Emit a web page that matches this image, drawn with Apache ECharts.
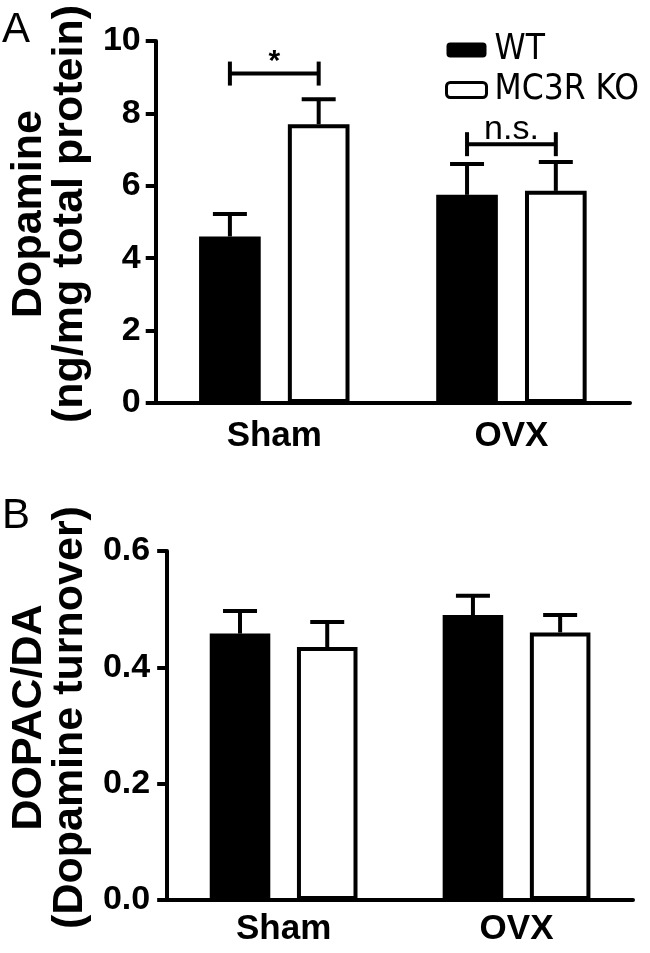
<!DOCTYPE html>
<html>
<head>
<meta charset="utf-8">
<script src="https://cdn.jsdelivr.net/npm/echarts@6/dist/echarts.min.js"></script>
<style>
html,body{margin:0;padding:0;background:#fff;}
#chart{width:650px;height:953px;}
</style>
</head>
<body>
<div id="chart"></div>
<script>
// ---- data ----
const categories = ['Sham', 'OVX'];
const seriesNames = ['WT', 'MC3R KO'];
// Panel A: Dopamine (ng/mg total protein)
const dopWT = [4.6, 5.75];
const dopWTErr = [0.62, 0.85];
const dopKO = [7.7, 5.86];
const dopKOErr = [0.69, 0.8];
const dopTicks = [0, 2, 4, 6, 8, 10];
// significance brackets for panel A: [categoryIndex, level]
const dopBrackets = [[0, 9.1], [1, 7.15]];
const dopBracketLabels = ['*', 'n.s.'];
// Panel B: DOPAC/DA
const turnWT = [0.458, 0.49];
const turnWTErr = [0.039, 0.033];
const turnKO = [0.435, 0.46];
const turnKOErr = [0.043, 0.03];
const turnTicks = [0.0, 0.2, 0.4, 0.6];

const FONT = '"Liberation Sans", Arial, Helvetica, sans-serif';
const NARROW = '"DejaVu Sans Condensed", "Liberation Sans", sans-serif';
const BAR_W = 0.26;   // fraction of category band
const BAR_GAP = 0.44; // fraction of bar width

const chart = echarts.init(document.getElementById('chart'), null, {renderer: 'canvas'});

function errSeries(vals, errs, sign, xi, yi) {
  return {
    type: 'custom',
    xAxisIndex: xi, yAxisIndex: yi,
    z: 5,
    silent: true,
    data: vals.map((v, i) => [i, v, errs[i]]),
    renderItem: function (params, api) {
      const c = api.value(0), v = api.value(1), e = api.value(2);
      const band = api.size([1, 0])[0];
      const bw = band * BAR_W;
      const off = sign * bw * (1 + BAR_GAP) / 2;
      const p0 = api.coord([c, v]);
      const p1 = api.coord([c, v + e]);
      const x = p0[0] + off;
      const capHalf = 17;
      const st = {stroke: '#000', lineWidth: 4};
      return {
        type: 'group',
        children: [
          {type: 'line', shape: {x1: x, y1: p0[1], x2: x, y2: p1[1]}, style: st},
          {type: 'line', shape: {x1: x - capHalf, y1: p1[1], x2: x + capHalf, y2: p1[1]}, style: st}
        ]
      };
    }
  };
}

function bracketSeries(brackets, labels, xi, yi) {
  return {
    type: 'custom',
    xAxisIndex: xi, yAxisIndex: yi,
    z: 6,
    silent: true,
    data: brackets,
    renderItem: function (params, api) {
      const c = api.value(0), lv = api.value(1);
      const band = api.size([1, 0])[0];
      const bw = band * BAR_W;
      const off = bw * (1 + BAR_GAP) / 2;
      const p = api.coord([c, lv]);
      const xl = p[0] - off, xr = p[0] + off, y = p[1];
      const st = {stroke: '#000', lineWidth: 4};
      const lab = labels[params.dataIndex];
      const isStar = lab === '*';
      return {
        type: 'group',
        children: [
          {type: 'line', shape: {x1: xl, y1: y, x2: xr, y2: y}, style: st},
          {type: 'line', shape: {x1: xl, y1: y - 12, x2: xl, y2: y + 12}, style: st},
          {type: 'line', shape: {x1: xr, y1: y - 12, x2: xr, y2: y + 12}, style: st},
          {type: 'text', style: {
            text: lab, x: p[0], y: isStar ? y - 12 : y + 2,
            textAlign: 'center', textVerticalAlign: isStar ? 'middle' : 'bottom',
            font: (isStar ? 'bold 30px ' : '34px ') + FONT, fill: '#000'
          }}
        ]
      };
    }
  };
}

const axisLineStyle = {lineStyle: {color: '#000', width: 4}};
const tickStyle = {lineStyle: {color: '#000', width: 4}};

const option = {
  animation: false,
  backgroundColor: '#fff',
  textStyle: {fontFamily: FONT},
  grid: [
    {left: 143, top: 41, width: 487, height: 362},
    {left: 161, top: 551, width: 472, height: 349}
  ],
  legend: {
    orient: 'vertical',
    left: 445, top: 30,
    padding: 0,
    itemWidth: 40, itemHeight: 15,
    itemGap: 0,
    textStyle: {fontSize: 35, fontFamily: NARROW, color: '#000', lineHeight: 40, padding: [0, 0, 0, 3]},
    data: [
      {name: 'WT', itemStyle: {color: '#000', borderColor: '#000', borderWidth: 0}},
      {name: 'MC3R KO', itemStyle: {color: '#fff', borderColor: '#000', borderWidth: 3}}
    ]
  },
  graphic: [
    {type: 'text', left: 2, top: 9, style: {text: 'A', font: '42px ' + FONT, fill: '#000'}},
    {type: 'text', left: 2, top: 495, style: {text: 'B', font: '42px ' + FONT, fill: '#000'}}
  ],
  xAxis: [0, 1].map(i => ({
    type: 'category', gridIndex: i, data: categories,
    axisLine: axisLineStyle,
    axisTick: Object.assign({alignWithLabel: true, length: 9}, tickStyle),
    axisLabel: {color: '#000', fontSize: 35, fontWeight: 'bold', fontFamily: FONT, margin: i === 0 ? 16 : 12}
  })),
  yAxis: [
    {
      type: 'value', gridIndex: 0, min: dopTicks[0], max: dopTicks[dopTicks.length - 1], interval: 2,
      axisLine: Object.assign({show: true}, axisLineStyle),
      axisTick: Object.assign({show: true, length: 10}, tickStyle),
      splitLine: {show: false},
      axisLabel: {color: '#000', fontSize: 34, fontWeight: 'bold', fontFamily: FONT, margin: 15},
      name: 'Dopamine\n(ng/mg total protein)',
      nameLocation: 'middle', nameGap: 58,
      nameTextStyle: {color: '#000', fontSize: 43, fontWeight: 'bold', fontFamily: FONT, lineHeight: 41, padding: [0, 0, 0, 16]}
    },
    {
      type: 'value', gridIndex: 1, min: turnTicks[0], max: turnTicks[turnTicks.length - 1], interval: 0.2,
      axisLine: Object.assign({show: true}, axisLineStyle),
      axisTick: Object.assign({show: true, length: 10}, tickStyle),
      splitLine: {show: false},
      axisLabel: {color: '#000', fontSize: 34, fontWeight: 'bold', fontFamily: FONT, margin: 17,
        formatter: v => v.toFixed(1)},
      name: 'DOPAC/DA\n(Dopamine turnover)',
      nameLocation: 'middle', nameGap: 76,
      nameTextStyle: {color: '#000', fontSize: 43, fontWeight: 'bold', fontFamily: FONT, lineHeight: 41, padding: [0, 0, 0, 16]}
    }
  ],
  series: [
    {name: 'WT', type: 'bar', xAxisIndex: 0, yAxisIndex: 0, data: dopWT,
      barWidth: (BAR_W * 100) + '%', barGap: (BAR_GAP * 100) + '%',
      itemStyle: {color: '#000'}},
    {name: 'MC3R KO', type: 'bar', xAxisIndex: 0, yAxisIndex: 0, data: dopKO,
      barWidth: (BAR_W * 100) + '%', barGap: (BAR_GAP * 100) + '%',
      itemStyle: {color: '#fff', borderColor: '#000', borderWidth: 4}},
    errSeries(dopWT, dopWTErr, -1, 0, 0),
    errSeries(dopKO, dopKOErr, 1, 0, 0),
    bracketSeries(dopBrackets, dopBracketLabels, 0, 0),
    {name: 'WT', type: 'bar', xAxisIndex: 1, yAxisIndex: 1, data: turnWT,
      barWidth: (BAR_W * 100) + '%', barGap: (BAR_GAP * 100) + '%',
      itemStyle: {color: '#000'}},
    {name: 'MC3R KO', type: 'bar', xAxisIndex: 1, yAxisIndex: 1, data: turnKO,
      barWidth: (BAR_W * 100) + '%', barGap: (BAR_GAP * 100) + '%',
      itemStyle: {color: '#fff', borderColor: '#000', borderWidth: 4}},
    errSeries(turnWT, turnWTErr, -1, 1, 1),
    errSeries(turnKO, turnKOErr, 1, 1, 1)
  ]
};
chart.setOption(option);
</script>
</body>
</html>
